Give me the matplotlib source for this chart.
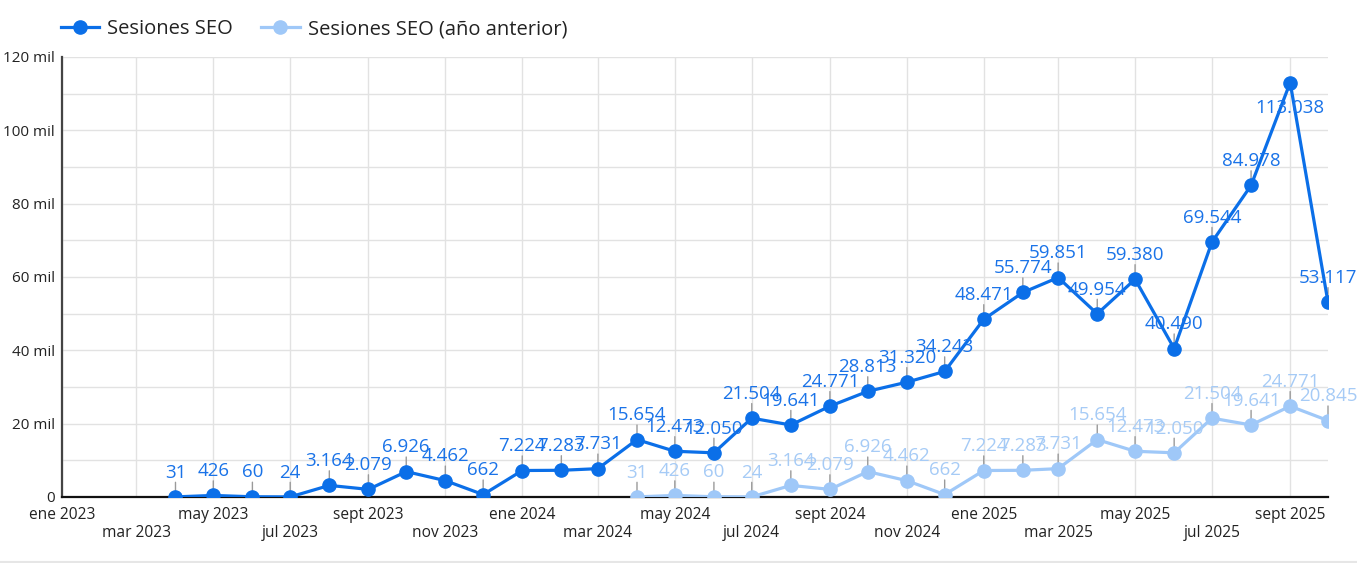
import matplotlib
matplotlib.use("Agg")
import matplotlib.pyplot as plt
import matplotlib.dates as mdates
from matplotlib.ticker import FuncFormatter, MultipleLocator
from matplotlib.lines import Line2D
import pandas as pd

plt.rcParams['font.family'] = ['Open Sans', 'DejaVu Sans']

# ---- data ----
current_start = "2023-04-01"
current_values = [31, 426, 60, 24, 3164, 2079, 6926, 4462, 662, 7224, 7283, 7731,
                  15654, 12473, 12050, 21504, 19641, 24771, 28813, 31320, 34243,
                  48471, 55774, 59851, 49954, 59380, 40490, 69544, 84978, 113038, 53117]
previous_start = "2024-04-01"
previous_values = [31, 426, 60, 24, 3164, 2079, 6926, 4462, 662, 7224, 7283, 7731,
                   15654, 12473, 12050, 21504, 19641, 24771, 20845]
series_names = ["Sesiones SEO", "Sesiones SEO (año anterior)"]
month_names = ["ene", "feb", "mar", "abr", "may", "jun", "jul", "ago", "sept", "oct", "nov", "dic"]
below_labels = {113038}

cur_dates = pd.date_range(current_start, periods=len(current_values), freq="MS")
prev_dates = pd.date_range(previous_start, periods=len(previous_values), freq="MS")

C_MAIN = "#0b6fe8"
C_LIGHT = "#9fc8f8"
C_MAIN_TXT = "#1a73e8"
C_LIGHT_TXT = "#a6cbf6"

W, H = 1357, 563
fig = plt.figure(figsize=(W / 100, H / 100), dpi=100)
ax = fig.add_axes([62 / W, 1 - 497 / H, (1328 - 62) / W, (497 - 57) / H])

l2, = ax.plot(prev_dates, previous_values, color=C_LIGHT, lw=2.3, marker='o', ms=9.5,
              zorder=3, solid_joinstyle='round')
l1, = ax.plot(cur_dates, current_values, color=C_MAIN, lw=2.3, marker='o', ms=9.5,
              zorder=4, solid_joinstyle='round')


def fmt_num(v):
    return f"{v:,}".replace(",", ".")


def add_labels(dates, values, color):
    for d, v in zip(dates, values):
        if v in below_labels:
            ax.annotate(fmt_num(v), xy=(d, v), xytext=(0, -18.5), textcoords='offset points',
                        ha='center', va='center', fontsize=13.5, color=color, zorder=6)
        else:
            ax.annotate('', xy=(d, v), xytext=(0, 10.5), textcoords='offset points',
                        arrowprops=dict(arrowstyle='-', color='#9a9a9a', lw=1,
                                        shrinkA=0, shrinkB=0), zorder=2)
            ax.annotate(fmt_num(v), xy=(d, v), xytext=(0, 17.5), textcoords='offset points',
                        ha='center', va='center', fontsize=13.5, color=color, zorder=6)


add_labels(prev_dates, previous_values, C_LIGHT_TXT)
add_labels(cur_dates, current_values, C_MAIN_TXT)

ax.set_xlim(pd.Timestamp("2023-01-01"), pd.Timestamp("2025-10-01"))
ax.set_ylim(0, 120000)

ax.xaxis.set_major_locator(mdates.MonthLocator(bymonth=[1, 5, 9]))
ax.xaxis.set_minor_locator(mdates.MonthLocator(bymonth=[3, 7, 11]))
mfmt = FuncFormatter(lambda x, p: f"{month_names[mdates.num2date(x).month - 1]} {mdates.num2date(x).year}")
ax.xaxis.set_major_formatter(mfmt)
ax.xaxis.set_minor_formatter(mfmt)
ax.tick_params(axis='x', which='major', length=0, pad=7, labelsize=11.2, labelcolor='#222')
ax.tick_params(axis='x', which='minor', length=0, pad=20.5, labelsize=11.2, labelcolor='#222')

ax.yaxis.set_major_locator(MultipleLocator(20000))
ax.yaxis.set_minor_locator(MultipleLocator(10000))
ax.yaxis.set_major_formatter(FuncFormatter(lambda v, p: "0" if v == 0 else f"{v / 1000:.0f} mil"))
ax.tick_params(axis='y', which='both', length=0, pad=5, labelsize=11, labelcolor='#222')

ax.grid(True, which='both', color='#e2e2e2', lw=1, zorder=0)
ax.set_axisbelow(True)
for s in ['top', 'right']:
    ax.spines[s].set_visible(False)
ax.spines['left'].set_color('#444444')
ax.spines['left'].set_linewidth(1.6)
ax.spines['bottom'].set_color('#111111')
ax.spines['bottom'].set_linewidth(1.6)
ax.spines['bottom'].set_zorder(2.5)

leg = fig.legend([l1, l2], series_names, loc='center left',
                 bbox_to_anchor=(61 / W, 1 - 29 / H), ncol=2, frameon=False,
                 fontsize=14.5, handlelength=1.9, handletextpad=0.4, columnspacing=1.4,
                 borderaxespad=0, borderpad=0)
for t in leg.get_texts():
    t.set_color('#222')

fig.add_artist(Line2D([0, 1], [1 - 561.5 / H, 1 - 561.5 / H], color='#e6e6e6', lw=1.5,
                      transform=fig.transFigure))

fig.savefig("out.png", dpi=100, facecolor='white')
